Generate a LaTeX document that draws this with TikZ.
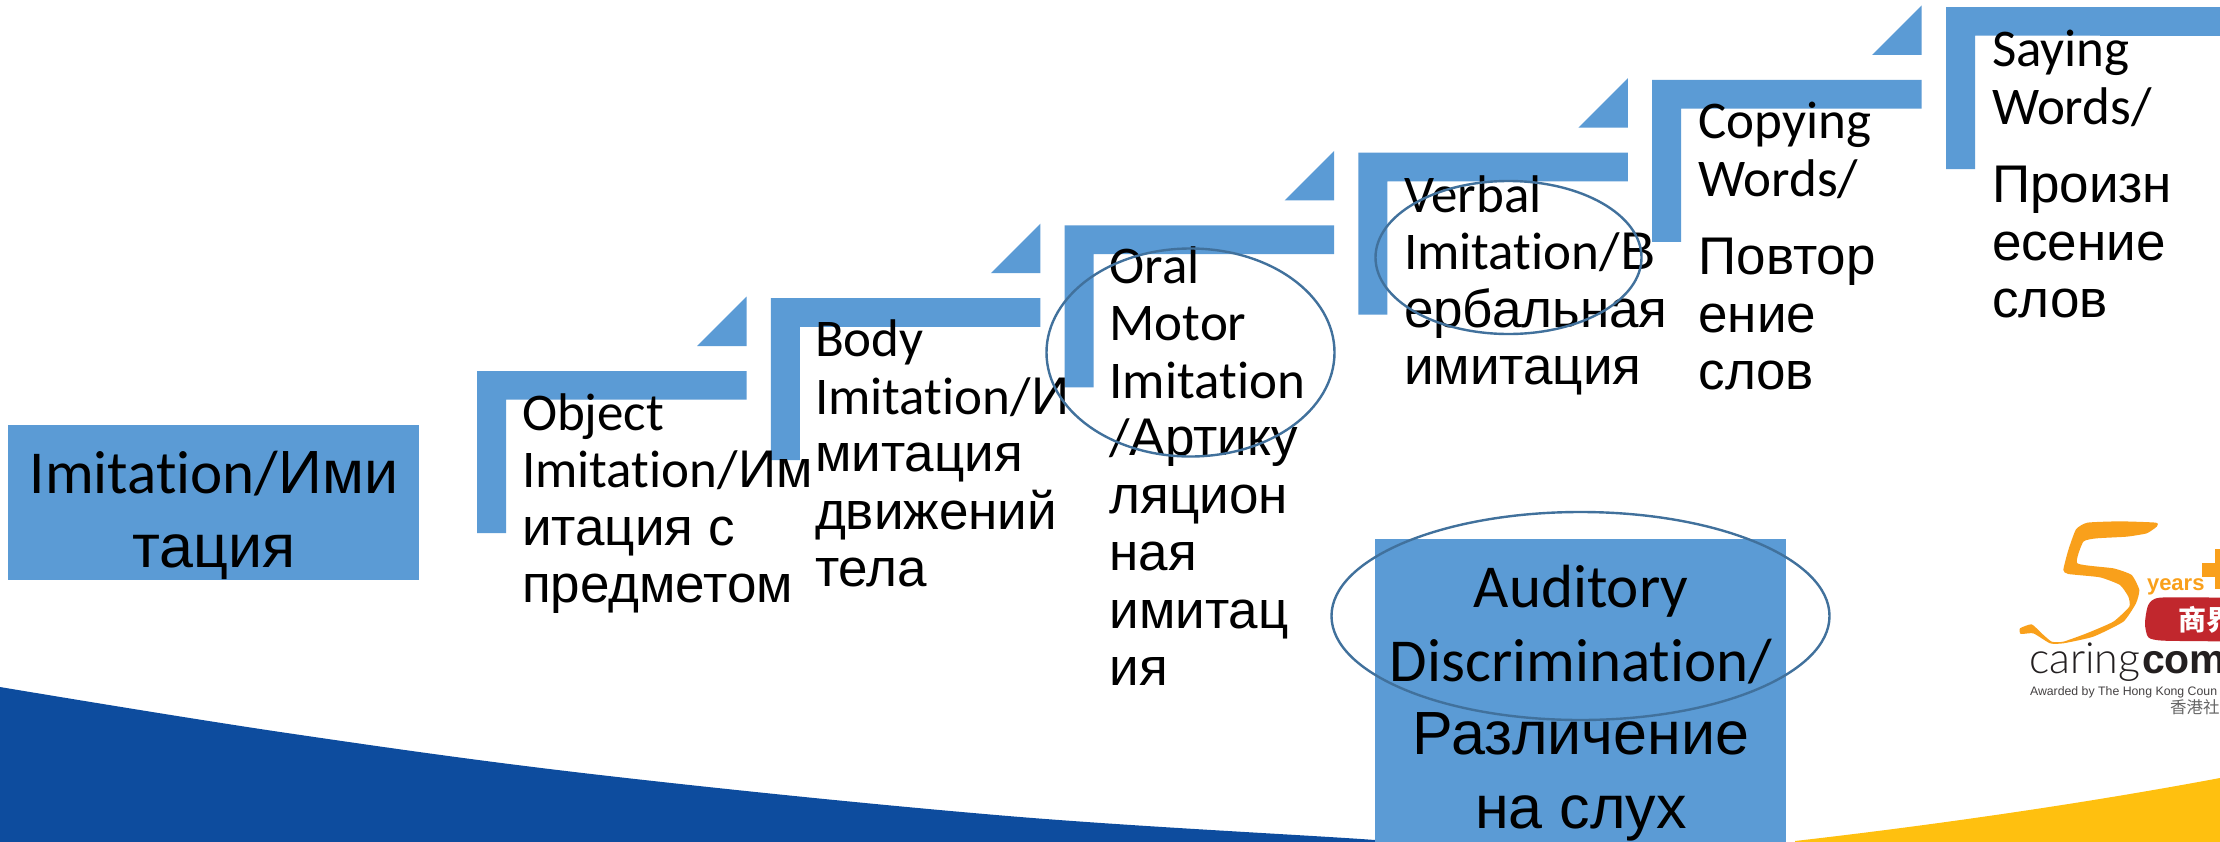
\documentclass[tikz,border=0pt]{standalone}
\usepackage{fontspec}
\usetikzlibrary{shapes.geometric}
\setmainfont[Ligatures=NoCommon]{Carlito}
\newfontfamily\cyr{Liberation Sans}
\newfontfamily\logofont{Liberation Sans}
\newfontfamily\lightfont{Lato Light}
\newfontfamily\cjk{Noto Sans CJK TC}
\newcommand{\R}[1]{{\cyr #1}}
\definecolor{boxblue}{HTML}{5B9BD5}
\definecolor{ringblue}{HTML}{41719C}
\definecolor{swoosh}{HTML}{0D4C9E}
\definecolor{sun}{HTML}{FFC00F}
\definecolor{logoorange}{HTML}{F9A01B}
\definecolor{logored}{HTML}{C1272D}
\definecolor{logoink}{HTML}{231F20}
\tikzset{
  steptext/.style={anchor=base west,inner sep=0pt,outer sep=0pt,align=left,font=\fontsize{53}{57.5}\selectfont,text=black},
  boxtext/.style={anchor=base,inner sep=0pt,outer sep=0pt,align=center,font=\fontsize{61}{73.7}\selectfont,text=black},
  ring/.style={ellipse,draw=ringblue,line width=2.4pt,fill=none,inner sep=0pt,outer sep=0pt},
  logotext/.style={anchor=base west,inner sep=0pt,outer sep=0pt}
}
\begin{document}
\begin{tikzpicture}[x=1pt,y=-1pt]
\useasboundingbox (0,0) rectangle (2220,841);
\clip (0,0) rectangle (2220,841);
\fill[white] (0,0) rectangle (2220,841);
% swooshes
\fill[swoosh] (0,845) -- (0,687) -- plot[smooth,tension=0.6] coordinates {(0,687) (287,733) (600,775) (1008,816) (1375,840) (1400,845)} -- cycle;
\fill[sun] (1795,845) -- (1795,841) .. controls (1900,829) and (2060,808) .. (2220,778) -- (2220,845) -- cycle;
% boxes
\fill[boxblue] (8,425) rectangle (419,580);
\fill[boxblue] (1375,539) rectangle (1786,845);
% steps
\foreach \i in {0,...,5}{
  \pgfmathsetmacro{\sx}{477+293.8*\i}
  \pgfmathsetmacro{\sy}{371-72.8*\i}
  \begin{scope}[shift={(\sx,\sy)}]
    \fill[boxblue] (0,0) -- (269.5,0) -- (269.5,28.7) -- (29,28.7) -- (29,162) -- (0,162) -- cycle;
  \end{scope}
}
\fill[boxblue] (2100,7) rectangle (2220,35.7);
\foreach \i in {0,...,4}{
  \pgfmathsetmacro{\sx}{477+293.8*\i}
  \pgfmathsetmacro{\sy}{371-72.8*\i}
  \begin{scope}[shift={(\sx,\sy)}]
    \fill[boxblue] (269.5,-74.5) -- (269.5,-25) -- (220,-25) -- cycle;
  \end{scope}
}
% texts (each anchored at the baseline of its last line)
\node[boxtext] (main) at (214,567.5) {Imitation/\R{Ими}\\\R{тация}};
\node[steptext] (s1) at (522,602.5) {Object\\Imitation/\R{Им}\\\R{итация с}\\\R{предметом}};
\node[steptext] (s2) at (815,586.5) {Body\\Imitation/\R{И}\\\R{митация}\\\R{движений}\\\R{тела}};
\node[steptext] (s3) at (1109.5,685.5) {Oral\\Motor\\Imitation\\/\R{Артику}\\\R{ляцион}\\\R{ная}\\\R{имитац}\\\R{ия}};
\node[steptext] (s4) at (1404,384.5) {Verbal\\Imitation/\R{В}\\\R{ербальная}\\\R{имитация}};
\node[steptext] (s5) at (1698.5,389.5) {Copying\\Words/\\[21pt]\R{Повтор}\\\R{ение}\\\R{слов}};
\node[steptext] (s6) at (1992,317.5) {Saying\\Words/\\[21pt]\R{Произн}\\\R{есение}\\\R{слов}};
\node[boxtext] (aud) at (1581,828.5) {Auditory\\Discrimination/\\\R{Различение}\\\R{на слух}};
% rings
\node[ring,minimum width=288pt,minimum height=208pt] (r1) at (1190.5,352.5) {};
\node[ring,minimum width=266pt,minimum height=153pt] (r2) at (1508.5,257.5) {};
\node[ring,minimum width=498pt,minimum height=208pt] (r3) at (1580.5,616) {};
% logo
\begin{scope}[shift={(2000,500)},x=0.3333pt,y=-0.3333pt]
\fill[logoorange] plot[smooth cycle,tension=0.3] coordinates {(468,68) (360,64) (262,68) (228,88) (205,150) (190,210) (205,222) (300,232) (360,255) (385,290) (388,320) (340,365) (260,400) (190,425) (155,425) (125,400) (95,373) (60,385) (62,402) (100,400) (150,430) (190,430) (280,410) (370,365) (408,310) (418,270) (395,225) (340,205) (232,190) (250,125) (290,115) (380,110) (440,100) (470,80)};
\fill[logoorange] (605,190) rectangle (665,232);
\fill[logoorange] (645,148) rectangle (665,268);
\fill[logored] plot[smooth,tension=0.4] coordinates {(665,293) (480,293) (445,315) (435,370) (445,412) (490,422) (665,424)} -- cycle;
\end{scope}
\node[logotext,text=logoorange,font=\logofont\bfseries\fontsize{22}{24}\selectfont] (ly) at (2147,590.5) {years};
\node[logotext,text=white,font=\cjk\bfseries\fontsize{28}{30}\selectfont] (lr) at (2178,630) {商界};
\node[logotext,text=logoink,font=\lightfont\fontsize{43}{46}\selectfont] (lc) at (2029,673) {caring};
\node[logotext,text=logoink,font=\logofont\bfseries\fontsize{41}{44}\selectfont] (lo) at (2142,673) {com};
\node[logotext,text=logoink!85,font=\logofont\fontsize{12.3}{15}\selectfont] (la) at (2030,695) {Awarded by The Hong Kong Coun};
\node[logotext,text=black!60,font=\cjk\fontsize{16.5}{18}\selectfont] (lz) at (2170,713) {香港社會};
\end{tikzpicture}
\end{document}
